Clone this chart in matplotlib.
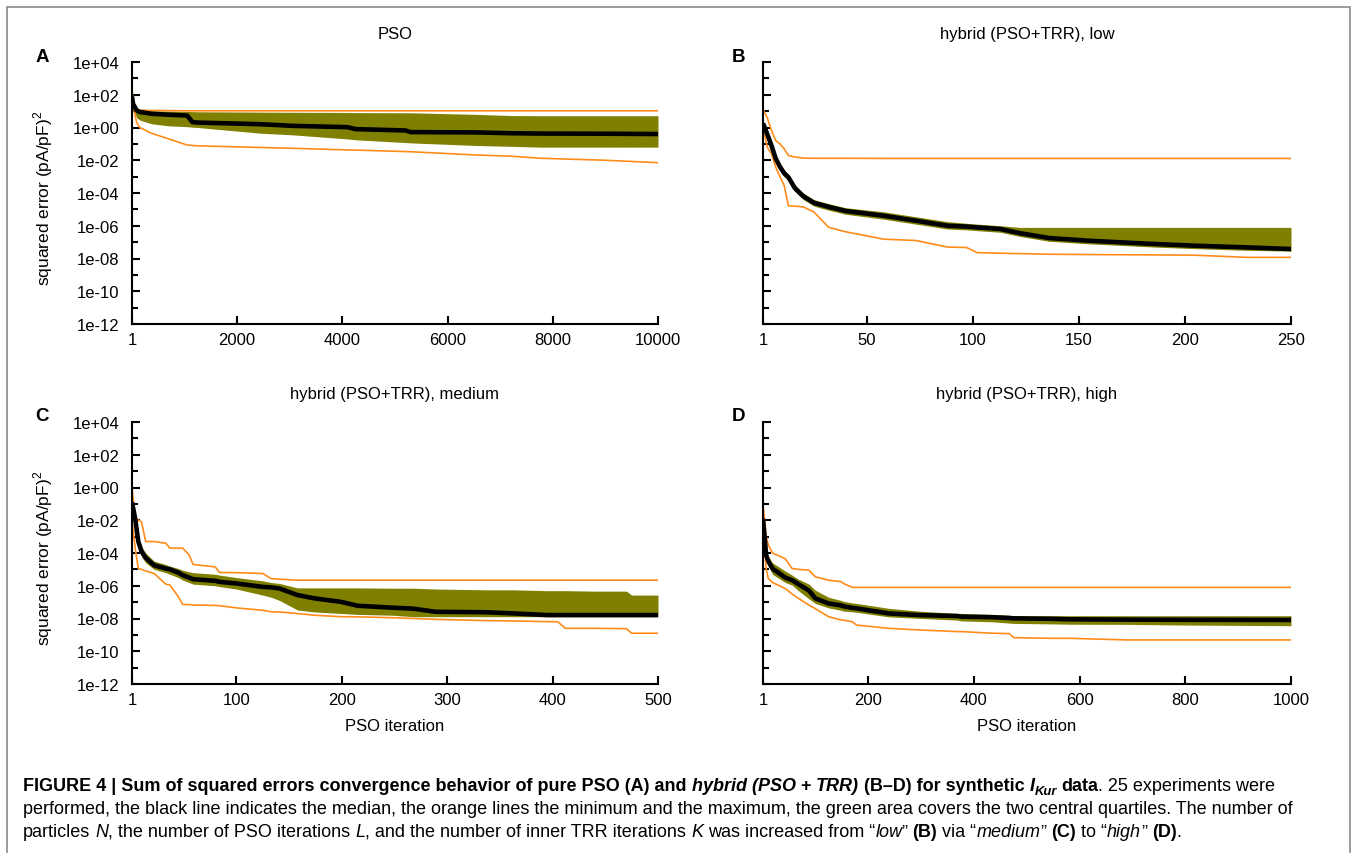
import numpy as np
import matplotlib
matplotlib.use("Agg")
import matplotlib.pyplot as plt
from matplotlib.patches import Rectangle
from matplotlib.transforms import IdentityTransform
from matplotlib.ticker import FixedLocator, NullFormatter
from matplotlib.font_manager import FontProperties

plt.rcParams["font.family"] = ["Liberation Sans", "DejaVu Sans"]
plt.rcParams["mathtext.fontset"] = "custom"
plt.rcParams["mathtext.rm"] = "Liberation Sans"

# --- data: log10 of squared error at breakpoints of each curve ---
# panel A, pure PSO
a_iter = [1, 20, 90, 150, 370, 700, 1050, 1150, 1250, 2450, 3060, 4100, 4250, 5200, 5300, 6550, 7200, 7780, 9000, 10000]
a_max = [2.5, 1.3, 1.1, 1.06, 1.04, 1.03, 1.02, 1.02, 1.02, 1.02, 1.02, 1.02, 1.02, 1.02, 1.02, 1.02, 1.02, 1.02, 1.02, 1.02]
a_q3 = [2.0, 1.5, 1.08, 1.05, 1.02, 1.0, 0.98, 0.97, 0.96, 0.94, 0.93, 0.92, 0.91, 0.9, 0.9, 0.8, 0.73, 0.72, 0.72, 0.72]
a_med = [1.9, 1.45, 1.04, 0.95, 0.84, 0.78, 0.73, 0.33, 0.3, 0.2, 0.1, 0.02, -0.1, -0.18, -0.28, -0.3, -0.35, -0.37, -0.38, -0.4]
a_q1 = [1.6, 1.2, 0.6, 0.45, 0.23, 0.1, 0.05, 0.02, 0.0, -0.35, -0.45, -0.7, -0.75, -0.92, -0.94, -1.1, -1.15, -1.2, -1.2, -1.2]
a_min = [1.5, 1.35, 0.3, 0.0, -0.35, -0.7, -1.07, -1.1, -1.12, -1.22, -1.27, -1.37, -1.38, -1.47, -1.48, -1.68, -1.75, -1.88, -2.0, -2.15]

# panel B, hybrid low
b_iter = [1, 3, 5, 7, 9, 11, 13, 16, 20, 25, 32, 40, 58, 73, 88, 97, 102, 113, 122, 136, 154, 185, 205, 229, 250]
b_max = [1.1, 0.6, -0.18, -0.8, -1.0, -1.3, -1.71, -1.8, -1.87, -1.88, -1.88, -1.88, -1.89, -1.89, -1.89, -1.89,
         -1.89, -1.89, -1.89, -1.89, -1.89, -1.89, -1.89, -1.89, -1.89]
b_q3 = [0.35, -0.2, -0.9, -1.7, -2.2, -2.6, -2.85, -3.5, -4.0, -4.4, -4.65, -4.9, -5.15, -5.45, -5.75, -5.85,
        -5.9, -6.0, -6.1, -6.1, -6.1, -6.1, -6.1, -6.1, -6.1]
b_med = [0.25, -0.4, -1.1, -1.9, -2.4, -2.8, -3.04, -3.7, -4.2, -4.6, -4.85, -5.1, -5.39, -5.69, -6.0, -6.05,
         -6.1, -6.2, -6.45, -6.75, -6.91, -7.11, -7.22, -7.32, -7.42]
b_q1 = [0.15, -0.6, -1.3, -2.1, -2.6, -3.0, -3.25, -3.9, -4.4, -4.8, -5.05, -5.3, -5.6, -5.9, -6.2, -6.25,
        -6.3, -6.4, -6.65, -6.95, -7.1, -7.3, -7.4, -7.5, -7.55]
b_min = [0.0, -1.2, -1.61, -2.43, -3.0, -3.55, -4.78, -4.8, -4.85, -5.16, -6.1, -6.37, -6.82, -6.9, -7.3, -7.33,
         -7.64, -7.68, -7.7, -7.74, -7.76, -7.78, -7.8, -7.93, -7.93]

# panel C, hybrid medium
c_iter = [1, 4, 7, 10, 14, 22, 33, 37, 45, 49, 55, 59, 80, 84, 100, 125, 133, 141, 158, 174, 199, 215, 248, 268,
          289, 338, 363, 395, 405, 412, 440, 470, 475, 500]
c_max = [0.0, -1.8, -2.0, -2.1, -3.3, -3.3, -3.4, -3.7, -3.7, -3.7, -4.1, -4.7, -4.85, -5.19, -5.2, -5.25, -5.56,
         -5.6, -5.66, -5.66, -5.66, -5.66, -5.66, -5.66, -5.66, -5.66, -5.66, -5.66, -5.66, -5.66, -5.66, -5.66,
         -5.66, -5.66]
c_q3 = [-0.6, -1.6, -3.0, -3.6, -4.0, -4.5, -4.7, -4.8, -4.95, -5.05, -5.15, -5.2, -5.3, -5.35, -5.5, -5.7, -5.8,
        -5.86, -6.13, -6.13, -6.13, -6.13, -6.15, -6.15, -6.2, -6.25, -6.25, -6.3, -6.3, -6.3, -6.33, -6.33,
        -6.57, -6.57]
c_med = [-0.9, -1.9, -3.3, -3.9, -4.3, -4.75, -4.95, -5.0, -5.2, -5.35, -5.5, -5.6, -5.7, -5.76, -5.86, -6.07, -6.1,
         -6.17, -6.57, -6.77, -6.98, -7.22, -7.34, -7.4, -7.59, -7.62, -7.69, -7.79, -7.79, -7.79, -7.79, -7.79,
         -7.79, -7.79]
c_q1 = [-1.2, -2.3, -3.6, -4.2, -4.6, -5.0, -5.2, -5.3, -5.5, -5.65, -5.8, -5.9, -6.0, -6.05, -6.2, -6.57, -6.7,
        -6.9, -7.48, -7.6, -7.69, -7.75, -7.8, -7.89, -7.89, -7.89, -7.89, -7.89, -7.89, -7.89, -7.89, -7.89,
        -7.89, -7.89]
c_min = [-2.0, -3.7, -4.95, -5.0, -5.1, -5.25, -5.9, -5.96, -6.67, -7.14, -7.15, -7.18, -7.2, -7.22, -7.35, -7.5,
         -7.59, -7.6, -7.7, -7.8, -7.89, -7.9, -7.95, -8.0, -8.05, -8.13, -8.15, -8.19, -8.2, -8.6, -8.6, -8.62,
         -8.9, -8.9]

# panel D, hybrid high
d_iter = [1, 7, 11, 19, 43, 56, 68, 88, 100, 125, 149, 153, 170, 178, 239, 296, 369, 377, 434, 467, 475, 548,
          581, 691, 800, 1000]
d_max = [-1.0, -3.0, -3.5, -4.0, -4.35, -4.95, -5.0, -5.05, -5.45, -5.66, -5.75, -5.86, -6.1, -6.1, -6.1, -6.1,
         -6.1, -6.1, -6.1, -6.1, -6.1, -6.1, -6.1, -6.1, -6.1, -6.1]
d_q3 = [-1.5, -3.9, -4.2, -4.6, -5.1, -5.35, -5.6, -5.9, -6.27, -6.7, -6.9, -6.95, -7.05, -7.08, -7.38, -7.55,
        -7.69, -7.69, -7.75, -7.8, -7.83, -7.83, -7.83, -7.83, -7.83, -7.83]
d_med = [-1.9, -4.14, -4.5, -4.95, -5.5, -5.66, -5.9, -6.3, -6.77, -7.08, -7.2, -7.25, -7.35, -7.38, -7.69, -7.79,
         -7.85, -7.89, -7.92, -7.97, -7.99, -8.02, -8.05, -8.07, -8.08, -8.09]
d_q1 = [-2.2, -4.4, -4.8, -5.3, -5.8, -5.96, -6.3, -6.8, -7.08, -7.35, -7.5, -7.55, -7.59, -7.62, -7.9, -7.99,
        -8.1, -8.15, -8.2, -8.28, -8.3, -8.33, -8.35, -8.36, -8.4, -8.44]
d_min = [-2.4, -4.95, -5.56, -5.8, -6.17, -6.5, -6.77, -7.18, -7.4, -7.89, -8.09, -8.1, -8.2, -8.4, -8.6, -8.7,
         -8.8, -8.8, -8.9, -8.92, -9.17, -9.21, -9.21, -9.31, -9.31, -9.31]

titles = ["PSO", "hybrid (PSO+TRR), low", "hybrid (PSO+TRR), medium", "hybrid (PSO+TRR), high"]
letters = ["A", "B", "C", "D"]
x_ticks = [[1, 2000, 4000, 6000, 8000, 10000], [1, 50, 100, 150, 200, 250],
           [1, 100, 200, 300, 400, 500], [1, 200, 400, 600, 800, 1000]]
y_exps = [-12, -10, -8, -6, -4, -2, 0, 2, 4]
y_tick_labels = ["1e-12", "1e-10", "1e-08", "1e-06", "1e-04", "1e-02", "1e+00", "1e+02", "1e+04"]
ylabel = r"squared error (pA/pF)$^2$"
xlabel = "PSO iteration"

GREEN = "#808000"
ORANGE = "#ff8c1a"

W, H = 1354, 854
fig = plt.figure(figsize=(W / 100, H / 100), dpi=100)

# frame round the whole figure
fig.add_artist(Rectangle((7 / W, -0.05), (1350 - 7) / W, 1.05 - 8 / H, transform=fig.transFigure,
                         fill=False, ec="#8a8a8a", lw=1.2))

# axes boxes in pixels: left, top, right, bottom
boxes = [(132, 63, 658, 325), (763, 63, 1291, 325), (132, 423, 658, 685), (763, 423, 1291, 685)]
series = [
    (a_iter, a_min, a_q1, a_med, a_q3, a_max),
    (b_iter, b_min, b_q1, b_med, b_q3, b_max),
    (c_iter, c_min, c_q1, c_med, c_q3, c_max),
    (d_iter, d_min, d_q1, d_med, d_q3, d_max),
]

for i, (box, data) in enumerate(zip(boxes, series)):
    left, top, right, bottom = box
    ax = fig.add_axes([left / W, 1 - bottom / H, (right - left) / W, (bottom - top) / H])
    it, lo, q1, med, q3, hi = [np.asarray(v, dtype=float) for v in data]

    ax.fill_between(it, 10.0 ** q1, 10.0 ** q3, color=GREEN, lw=0)
    ax.plot(it, 10.0 ** hi, color=ORANGE, lw=1.2)
    ax.plot(it, 10.0 ** lo, color=ORANGE, lw=1.2)
    ax.plot(it, 10.0 ** med, color="black", lw=3.3, solid_capstyle="butt")

    ax.set_yscale("log")
    ax.set_ylim(1e-12, 1e4)
    ax.set_xlim(1, x_ticks[i][-1])
    ax.set_xticks(x_ticks[i])
    ax.set_xticklabels([str(t) for t in x_ticks[i]])
    ax.yaxis.set_major_locator(FixedLocator([10.0 ** e for e in y_exps]))
    ax.yaxis.set_minor_locator(FixedLocator([10.0 ** (e + 1) for e in y_exps[:-1]]))
    ax.yaxis.set_minor_formatter(NullFormatter())
    if i % 2 == 0:
        ax.set_yticklabels(y_tick_labels)
        fig.text(43 / W, 1 - ((top + bottom) / 2 + 4) / H, ylabel, rotation=90, ha="center", va="center",
                 fontsize=12.5)
    else:
        ax.set_yticklabels([])

    for side in ("top", "right"):
        ax.spines[side].set_visible(False)
    for side in ("left", "bottom"):
        ax.spines[side].set_linewidth(1.5)
    ax.tick_params(which="major", direction="in", length=6, width=1.5, labelsize=12)
    ax.tick_params(which="minor", direction="in", length=4, width=1.5)
    ax.tick_params(axis="y", pad=9)
    ax.tick_params(axis="x", pad=6)

    ax.set_title(titles[i], fontsize=12, pad=17)
    if i >= 2:
        ax.set_xlabel(xlabel, fontsize=12, labelpad=8)

    fig.text((left - 90) / W if i % 2 == 0 else (left - 25) / W, 1 - (top - 6) / H, letters[i],
             fontsize=13.5, fontweight="bold", ha="center", va="center")

# --- caption with mixed styles ---
renderer = fig.canvas.get_renderer()
CAP = 13
styles = {
    "n": FontProperties(family="Liberation Sans", size=CAP),
    "i": FontProperties(family="Liberation Sans", size=CAP, style="italic"),
    "b": FontProperties(family="Liberation Sans", size=CAP, weight="bold"),
    "bi": FontProperties(family="Liberation Sans", size=CAP, weight="bold", style="italic"),
    "sub": FontProperties(family="Liberation Sans", size=CAP * 0.72, weight="bold", style="italic"),
}


def advance(s, fp):
    w1 = renderer.get_text_width_height_descent("." + s + ".", fp, ismath=False)[0]
    w0 = renderer.get_text_width_height_descent("..", fp, ismath=False)[0]
    return w1 - w0


def caption_line(x, y, runs):
    for s, st in runs:
        fp = styles[st]
        dy = -4 if st == "sub" else 0
        core = s.strip()
        lead = s[:len(s) - len(s.lstrip())]
        if core:
            fig.text(x + advance(lead, fp), y + dy, core, fontproperties=fp,
                     transform=IdentityTransform(), ha="left", va="baseline")
        x += advance(s, fp)


line1 = [
    ("FIGURE 4 | Sum of squared errors convergence behavior of pure PSO (A) and ", "b"),
    ("hybrid (PSO", "bi"), (" + ", "b"), ("TRR)", "bi"),
    (" (B–D) for synthetic ", "b"), ("I", "bi"), ("Kur", "sub"), (" data", "b"),
    (". 25 experiments were", "n"),
]
line2 = [
    ("performed, the black line indicates the median, the orange lines the minimum and the maximum, "
     "the green area covers the two central quartiles. The number of", "n"),
]
line3 = [
    ("particles ", "n"), ("N", "i"), (", the number of PSO iterations ", "n"), ("L", "i"),
    (", and the number of inner TRR iterations ", "n"), ("K", "i"), (" was increased from “", "n"),
    ("low", "i"), ("” ", "n"), ("(B)", "b"), (" via “", "n"), ("medium", "i"), ("” ", "n"),
    ("(C)", "b"), (" to “", "n"), ("high", "i"), ("” ", "n"), ("(D)", "b"), (".", "n"),
]

caption_line(23, H - 791, line1)
caption_line(23, H - 814, line2)
caption_line(23, H - 837, line3)

fig.savefig("out.png", dpi=100)
